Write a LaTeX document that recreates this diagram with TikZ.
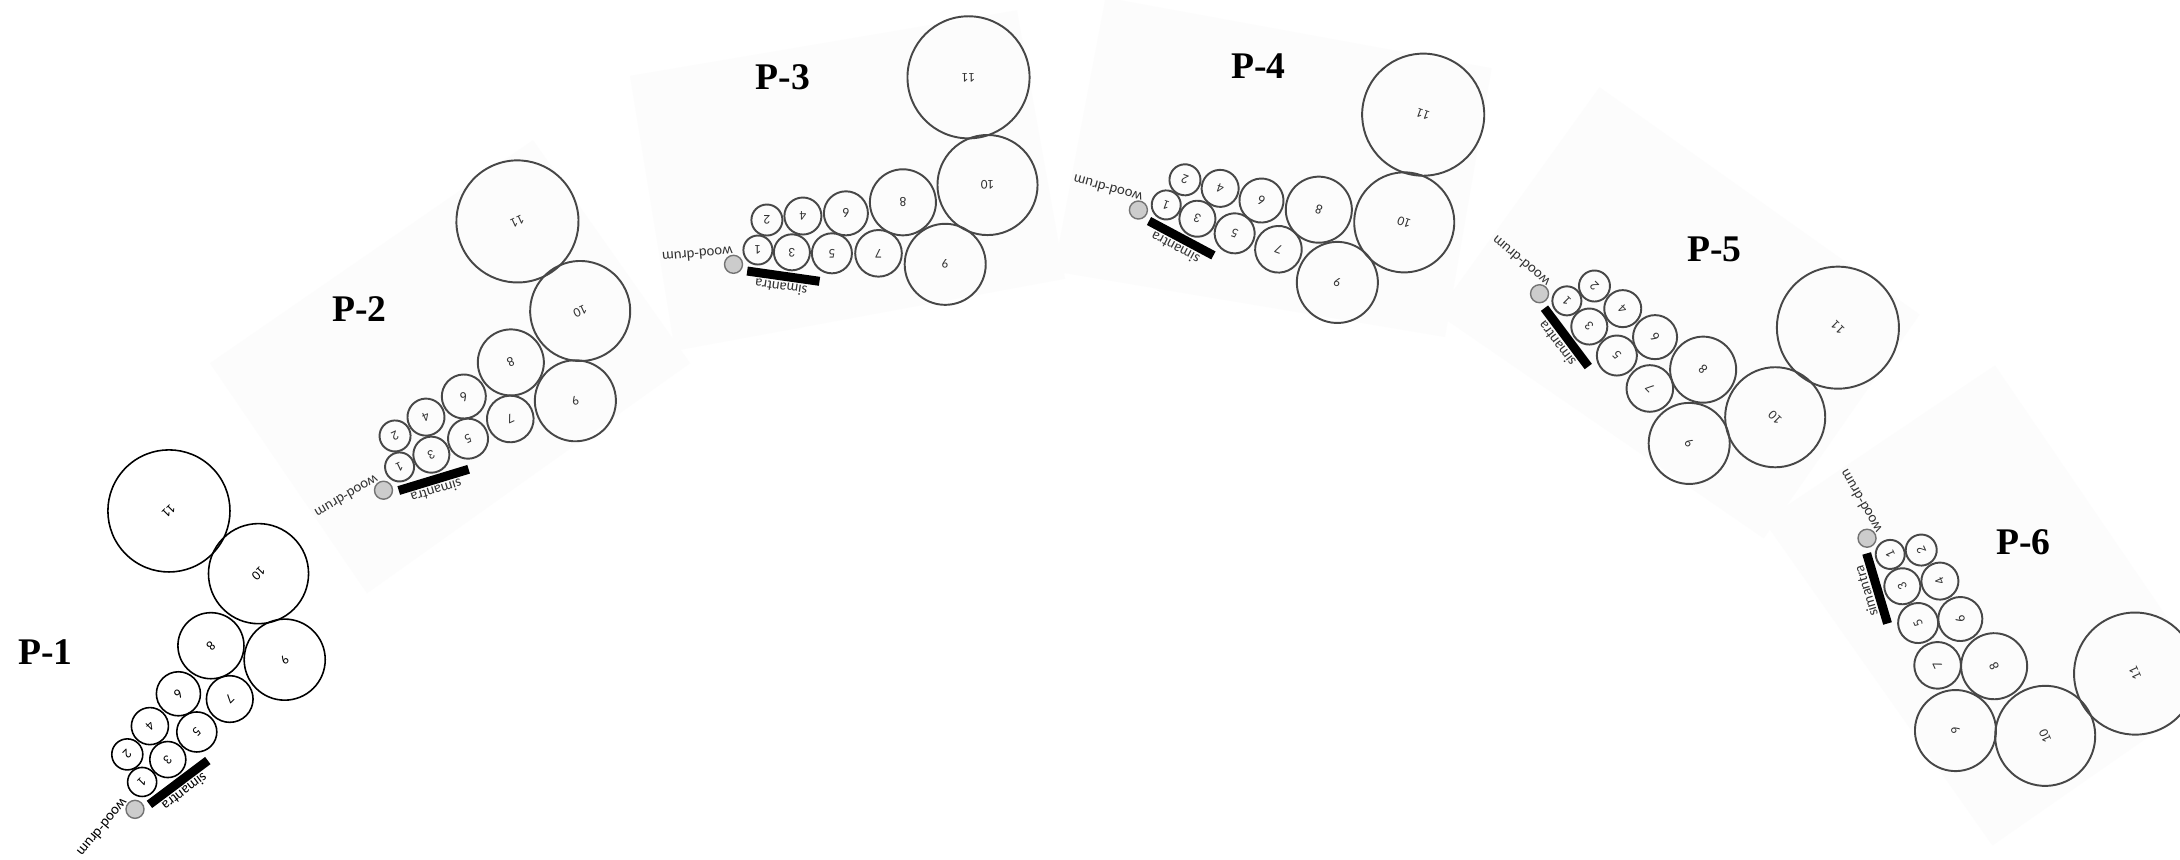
\documentclass[tikz,border=0pt]{standalone}
\usepackage{fontspec}
\setmainfont{Liberation Serif}
\newfontfamily\calib{Carlito}
\newcommand\numfont{\calib\fontsize{3.8}{4}\selectfont}
\newcommand\labfont{\calib\fontsize{4.2}{5}\selectfont}
\tikzset{
 ink/.style={draw=black!72, line width=0.55pt},
 inktext/.style={text=black!80},
 oldpanel/.style={ink/.style={draw=black, line width=0.45pt}, inktext/.style={text=black}},
 newpanel/.style={},
 cir/.style={circle, ink, inktext, minimum size=#1*0.02cm, inner sep=0pt, font=\numfont, rotate=180, transform shape},
 drum/.style={circle, draw=black!55, fill=black!20, line width=0.4pt, minimum size=0.18cm, inner sep=0pt},
 bar/.style={rectangle, fill=black, minimum width=0.73cm, minimum height=0.09cm, inner sep=0pt, rotate=-8.1, transform shape},
 lab/.style={font=\labfont, inktext, inner sep=0pt, transform shape},
 plabel/.style={font=\bfseries\fontsize{10.7}{12}\selectfont, inner sep=0pt},
 pagebg/.style={fill=black!1}
}
\newcommand\pagebg[3]{\fill[pagebg, shift={(#1,#2)}, rotate=#3] (-103.5,-188.4) -- (283.4,-254) -- (331.5,14.4) -- (-58.5,86.4) -- cycle;}
\newcommand\panel[5]{%
\begin{scope}[shift={(#2,#3)}, rotate=#4, #5]
 \node[drum] (#1w) at (0,0) {};
 \node[cir=14.5] (#1c1) at (24.4,-14.3) {1};
 \node[cir=15.5] (#1c2) at (33.4,-44.3) {2};
 \node[cir=18] (#1c3) at (58.4,-12) {3};
 \node[cir=18.5] (#1c4) at (69.4,-48.3) {4};
 \node[cir=20] (#1c5) at (98.4,-11) {5};
 \node[cir=22] (#1c6) at (112.4,-51) {6};
 \node[cir=23.3] (#1c7) at (145,-11) {7};
 \node[cir=33] (#1c8) at (169.4,-62) {8};
 \node[cir=40.5] (#1c9) at (211.7,0) {9};
 \node[cir=50] (#1c10) at (254,-79.3) {10};
 \node[cir=61] (#1c11) at (235,-187) {11};
 \node[bar] (#1bar) at (49.85,11.85) {};
 \node[lab, rotate=171.9] (#1sim) at (47.6,23.2) {simantra};
 \node[lab, rotate=185] (#1wd) at (-36,-9.5) {wood-drum};
\end{scope}}
\begin{document}
\begin{tikzpicture}[x=0.01cm, y=-0.01cm]
\clip (0,0) rectangle (2180,859);
\fill[white] (0,0) rectangle (2180,859);
% faint page backgrounds
\pagebg{383.5}{490.2}{25}
\pagebg{733.5}{264.3}{0}
\pagebg{1138.4}{210}{-20}
\pagebg{1539.5}{293.7}{-45}
\pagebg{1867}{538.2}{-65.3}
% panels
\panel{a}{135}{809.3}{45}{oldpanel}
\panel{b}{383.5}{490.2}{25}{newpanel}
\panel{c}{733.5}{264.3}{0}{newpanel}
\panel{d}{1138.4}{210}{-20}{newpanel}
\panel{e}{1539.5}{293.7}{-45}{newpanel}
\panel{f}{1867}{538.2}{-65.3}{newpanel}
% labels
\node[plabel] (L1) at (45.5,652.5) {P-1};
\node[plabel] (L2) at (359.5,309.5) {P-2};
\node[plabel] (L3) at (783,77.5) {P-3};
\node[plabel] (L4) at (1258.5,66) {P-4};
\node[plabel] (L5) at (1714.5,249.5) {P-5};
\node[plabel] (L6) at (2023.5,542) {P-6};
\end{tikzpicture}
\end{document}
